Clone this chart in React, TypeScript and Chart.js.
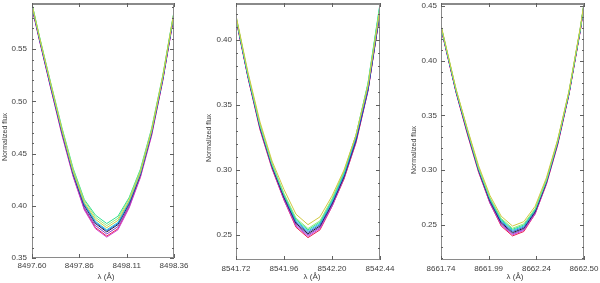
import React, { useEffect, useRef } from "react";
import { Chart, registerables } from "chart.js";

Chart.register(...registerables);
Chart.defaults.font.family = "'Liberation Sans', Arial, sans-serif";

// Series (same order in every panel): red, magenta, purple, black, blue, cyan, green, light green, yellow
const seriesColors = ["#e8204a", "#d040d0", "#8040d0", "#202030", "#3060e0", "#20c8d8", "#30e090", "#90e880", "#d0c840"];

// ---------- Ca II 8498 ----------
const w8498 = [8497.58, 8497.64, 8497.70, 8497.76, 8497.82, 8497.88, 8497.94, 8498.00, 8498.06, 8498.12, 8498.18, 8498.24, 8498.30, 8498.36, 8498.42];
const f8498Red = [0.606, 0.559, 0.513, 0.469, 0.429, 0.397, 0.379, 0.371, 0.378, 0.399, 0.428, 0.468, 0.520, 0.583, 0.641];
const f8498Magenta = [0.605, 0.558, 0.513, 0.468, 0.428, 0.396, 0.378, 0.370, 0.377, 0.398, 0.427, 0.467, 0.520, 0.582, 0.640];
const f8498Purple = [0.606, 0.559, 0.514, 0.470, 0.430, 0.398, 0.381, 0.373, 0.380, 0.400, 0.429, 0.469, 0.521, 0.583, 0.641];
const f8498Black = [0.607, 0.560, 0.515, 0.471, 0.431, 0.400, 0.383, 0.375, 0.382, 0.402, 0.430, 0.470, 0.522, 0.584, 0.642];
const f8498Blue = [0.607, 0.560, 0.515, 0.472, 0.432, 0.401, 0.384, 0.376, 0.383, 0.403, 0.431, 0.471, 0.522, 0.584, 0.642];
const f8498Cyan = [0.608, 0.561, 0.516, 0.472, 0.432, 0.402, 0.385, 0.377, 0.384, 0.404, 0.431, 0.471, 0.523, 0.585, 0.643];
const f8498Green = [0.609, 0.562, 0.518, 0.475, 0.436, 0.406, 0.391, 0.383, 0.390, 0.408, 0.435, 0.474, 0.525, 0.586, 0.644];
const f8498LightGreen = [0.609, 0.562, 0.517, 0.474, 0.435, 0.405, 0.389, 0.381, 0.388, 0.407, 0.434, 0.473, 0.524, 0.586, 0.644];
const f8498Yellow = [0.608, 0.561, 0.517, 0.473, 0.433, 0.403, 0.387, 0.379, 0.386, 0.405, 0.432, 0.472, 0.524, 0.585, 0.643];
const xTicks8498 = [8497.6, 8497.853, 8498.107, 8498.36];
const xLabels8498 = ["8497.60", "8497.86", "8498.11", "8498.36"];
const yTicks8498 = [0.35, 0.4, 0.45, 0.5, 0.55];

// ---------- Ca II 8542 ----------
const w8542 = [8541.66, 8541.72, 8541.78, 8541.84, 8541.90, 8541.96, 8542.02, 8542.08, 8542.14, 8542.20, 8542.26, 8542.32, 8542.38, 8542.44, 8542.50];
const f8542Red = [0.465, 0.416, 0.371, 0.331, 0.301, 0.277, 0.256, 0.248, 0.254, 0.272, 0.293, 0.321, 0.361, 0.421, 0.479];
const f8542Magenta = [0.465, 0.416, 0.371, 0.332, 0.302, 0.277, 0.257, 0.249, 0.255, 0.272, 0.294, 0.322, 0.361, 0.421, 0.479];
const f8542Purple = [0.466, 0.417, 0.372, 0.332, 0.302, 0.278, 0.258, 0.250, 0.256, 0.273, 0.294, 0.322, 0.362, 0.422, 0.480];
const f8542Black = [0.466, 0.417, 0.372, 0.333, 0.303, 0.279, 0.259, 0.251, 0.257, 0.274, 0.295, 0.323, 0.362, 0.422, 0.480];
const f8542Blue = [0.466, 0.417, 0.372, 0.334, 0.304, 0.280, 0.260, 0.252, 0.258, 0.275, 0.296, 0.324, 0.362, 0.422, 0.480];
const f8542Cyan = [0.467, 0.418, 0.373, 0.334, 0.304, 0.281, 0.261, 0.253, 0.259, 0.276, 0.297, 0.326, 0.366, 0.427, 0.485];
const f8542Green = [0.467, 0.418, 0.373, 0.335, 0.305, 0.281, 0.262, 0.254, 0.260, 0.277, 0.298, 0.327, 0.367, 0.428, 0.486];
const f8542LightGreen = [0.467, 0.418, 0.374, 0.335, 0.305, 0.282, 0.263, 0.255, 0.261, 0.278, 0.299, 0.327, 0.366, 0.426, 0.484];
const f8542Yellow = [0.468, 0.419, 0.375, 0.337, 0.307, 0.285, 0.266, 0.258, 0.264, 0.280, 0.300, 0.327, 0.365, 0.424, 0.482];
const xTicks8542 = [8541.72, 8541.96, 8542.2, 8542.44];
const xLabels8542 = ["8541.72", "8541.96", "8542.20", "8542.44"];
const yTicks8542 = [0.25, 0.3, 0.35, 0.4];

// ---------- Ca II 8662 ----------
const w8662 = [8661.70, 8661.76, 8661.82, 8661.88, 8661.94, 8662.00, 8662.06, 8662.12, 8662.18, 8662.24, 8662.30, 8662.36, 8662.42, 8662.48, 8662.54];
const f8662Red = [0.459, 0.415, 0.371, 0.333, 0.298, 0.270, 0.249, 0.240, 0.244, 0.260, 0.287, 0.323, 0.369, 0.427, 0.496];
const f8662Magenta = [0.459, 0.415, 0.371, 0.334, 0.299, 0.270, 0.250, 0.241, 0.245, 0.260, 0.288, 0.324, 0.369, 0.427, 0.496];
const f8662Purple = [0.460, 0.416, 0.372, 0.334, 0.299, 0.271, 0.251, 0.242, 0.246, 0.261, 0.288, 0.324, 0.370, 0.428, 0.497];
const f8662Black = [0.460, 0.416, 0.372, 0.335, 0.300, 0.272, 0.252, 0.243, 0.247, 0.262, 0.289, 0.325, 0.370, 0.428, 0.497];
const f8662Blue = [0.460, 0.416, 0.372, 0.336, 0.301, 0.273, 0.253, 0.244, 0.248, 0.263, 0.290, 0.326, 0.370, 0.428, 0.497];
const f8662Cyan = [0.461, 0.417, 0.373, 0.336, 0.301, 0.274, 0.254, 0.245, 0.249, 0.264, 0.290, 0.326, 0.371, 0.429, 0.498];
const f8662Green = [0.461, 0.417, 0.373, 0.337, 0.302, 0.274, 0.255, 0.246, 0.250, 0.264, 0.291, 0.327, 0.371, 0.429, 0.498];
const f8662LightGreen = [0.461, 0.417, 0.374, 0.337, 0.302, 0.275, 0.256, 0.247, 0.251, 0.265, 0.291, 0.327, 0.372, 0.429, 0.498];
const f8662Yellow = [0.462, 0.418, 0.374, 0.338, 0.304, 0.277, 0.258, 0.249, 0.253, 0.267, 0.293, 0.328, 0.372, 0.430, 0.499];
const xTicks8662 = [8661.74, 8661.993, 8662.247, 8662.5];
const xLabels8662 = ["8661.74", "8661.99", "8662.24", "8662.50"];
const yTicks8662 = [0.25, 0.3, 0.35, 0.4, 0.45];

const xTitle = "λ (Å)";
const yTitle = "Normalized flux";

const panels = [
  {
    wavelength: w8498,
    flux: [f8498Red, f8498Magenta, f8498Purple, f8498Black, f8498Blue, f8498Cyan, f8498Green, f8498LightGreen, f8498Yellow],
    xMin: 8497.6, xMax: 8498.36, yMin: 0.35, yMax: 0.5942,
    xTicks: xTicks8498, xLabels: xLabels8498, yTicks: yTicks8498,
    left: 0, axisW: 32, padRight: 26, padTop: 3, axisH: 25, xLabelPad: 3, yLabelPad: 5,
    yTitlePos: [5, 137], xTitlePos: [106, 277],
  },
  {
    wavelength: w8542,
    flux: [f8542Red, f8542Magenta, f8542Purple, f8542Black, f8542Blue, f8542Cyan, f8542Green, f8542LightGreen, f8542Yellow],
    xMin: 8541.72, xMax: 8542.44, yMin: 0.2308, yMax: 0.4285,
    xTicks: xTicks8542, xLabels: xLabels8542, yTicks: yTicks8542,
    left: 200, axisW: 36, padRight: 20, padTop: 3, axisH: 23, xLabelPad: 4, yLabelPad: 4,
    yTitlePos: [9, 138], xTitlePos: [112, 277],
  },
  {
    wavelength: w8662,
    flux: [f8662Red, f8662Magenta, f8662Purple, f8662Black, f8662Blue, f8662Cyan, f8662Green, f8662LightGreen, f8662Yellow],
    xMin: 8661.74, xMax: 8662.5, yMin: 0.218, yMax: 0.4527,
    xTicks: xTicks8662, xLabels: xLabels8662, yTicks: yTicks8662,
    left: 400, axisW: 41, padRight: 16, padTop: 3, axisH: 23, xLabelPad: 4, yLabelPad: 4,
    yTitlePos: [14, 150], xTitlePos: [115, 277],
  },
];

const framePlugin = {
  id: "frame",
  afterDraw(chart: any) {
    const o = chart.options.plugins.frame;
    const { ctx, chartArea: a } = chart;
    const xs = chart.scales.x;
    const ys = chart.scales.y;
    ctx.save();
    ctx.strokeStyle = "#8a8a8a";
    ctx.lineWidth = 1;
    ctx.strokeRect(a.left + 0.5, a.top + 0.5, a.right - a.left - 1, a.bottom - a.top - 1);
    ctx.lineWidth = 2;
    ctx.beginPath();
    ctx.moveTo(a.left, a.top + 1);
    ctx.lineTo(a.right, a.top + 1);
    ctx.stroke();
    ctx.lineWidth = 1;
    ctx.strokeStyle = "#606060";
    ctx.beginPath();
    // minor y ticks
    const step = 0.01;
    for (let v = Math.ceil(ys.min / step) * step; v <= ys.max + 1e-9; v += step) {
      const py = Math.round(ys.getPixelForValue(v)) + 0.5;
      ctx.moveTo(a.left, py);
      ctx.lineTo(a.left + 2, py);
      ctx.moveTo(a.right, py);
      ctx.lineTo(a.right - 2, py);
    }
    // major y ticks
    for (const v of o.yTicks) {
      const py = Math.round(ys.getPixelForValue(v)) + 0.5;
      ctx.moveTo(a.left, py);
      ctx.lineTo(a.left + 4, py);
      ctx.moveTo(a.right, py);
      ctx.lineTo(a.right - 4, py);
    }
    // major x ticks
    for (const v of o.xTicks) {
      const px = Math.round(xs.getPixelForValue(v)) + 0.5;
      ctx.moveTo(px, a.bottom);
      ctx.lineTo(px, a.bottom - 4);
      ctx.moveTo(px, a.top);
      ctx.lineTo(px, a.top + 4);
    }
    ctx.stroke();
    // titles
    ctx.fillStyle = "#404040";
    ctx.textAlign = "center";
    ctx.textBaseline = "middle";
    ctx.font = "8px 'Liberation Sans', Arial, sans-serif";
    ctx.fillText(xTitle, o.xTitlePos[0], o.xTitlePos[1]);
    ctx.save();
    ctx.translate(o.yTitlePos[0], o.yTitlePos[1]);
    ctx.rotate(-Math.PI / 2);
    ctx.font = "7px 'Liberation Sans', Arial, sans-serif";
    ctx.fillText(yTitle, 0, 0);
    ctx.restore();
    ctx.restore();
  },
};

function Panel({ p }: { p: any }) {
  const ref = useRef<HTMLCanvasElement>(null);
  useEffect(() => {
    const n = p.flux.length;
    const datasets = p.flux.map((ys: number[], k: number) => ({
      data: p.wavelength.map((x: number, i: number) => ({ x, y: ys[i] })),
      borderColor: seriesColors[k],
      borderWidth: 1,
      pointRadius: 0,
      tension: 0,
      fill: false,
      order: n - k,
    }));
    const chart = new Chart(ref.current as HTMLCanvasElement, {
      type: "line",
      data: { datasets },
      options: {
        animation: false,
        responsive: false,
        devicePixelRatio: 1,
        layout: { padding: { left: 0, right: p.padRight, top: p.padTop, bottom: 0 } },
        plugins: {
          legend: { display: false },
          tooltip: { enabled: false },
          frame: { xTicks: p.xTicks, yTicks: p.yTicks, xTitlePos: p.xTitlePos, yTitlePos: p.yTitlePos },
        } as any,
        scales: {
          x: {
            type: "linear",
            min: p.xMin,
            max: p.xMax,
            grid: { display: false, drawTicks: false },
            border: { display: false },
            afterBuildTicks: (s: any) => {
              s.ticks = p.xTicks.map((v: number) => ({ value: v }));
            },
            afterFit: (s: any) => {
              s.height = p.axisH;
              s.paddingLeft = 0;
              s.paddingRight = 0;
            },
            ticks: {
              autoSkip: false,
              maxRotation: 0,
              minRotation: 0,
              padding: p.xLabelPad,
              color: "#404040",
              font: { size: 8 },
              callback: (_v: any, i: number) => p.xLabels[i],
            },
          },
          y: {
            type: "linear",
            min: p.yMin,
            max: p.yMax,
            grid: { display: false, drawTicks: false },
            border: { display: false },
            afterBuildTicks: (s: any) => {
              s.ticks = p.yTicks.map((v: number) => ({ value: v }));
            },
            afterFit: (s: any) => {
              s.width = p.axisW;
              s.paddingTop = 0;
              s.paddingBottom = 0;
            },
            ticks: {
              padding: p.yLabelPad,
              color: "#404040",
              font: { size: 8 },
              callback: (v: any) => Number(v).toFixed(2),
            },
          },
        },
      },
      plugins: [framePlugin],
    } as any);
    return () => chart.destroy();
  }, [p]);
  return (
    <canvas
      ref={ref}
      width={200}
      height={283}
      style={{ position: "absolute", left: p.left, top: 0, width: 200, height: 283 }}
    />
  );
}

export default function App() {
  return (
    <div style={{ position: "absolute", left: 0, top: 0, width: 600, height: 283, background: "#fff" }}>
      {panels.map((p, i) => (
        <Panel key={i} p={p} />
      ))}
    </div>
  );
}
